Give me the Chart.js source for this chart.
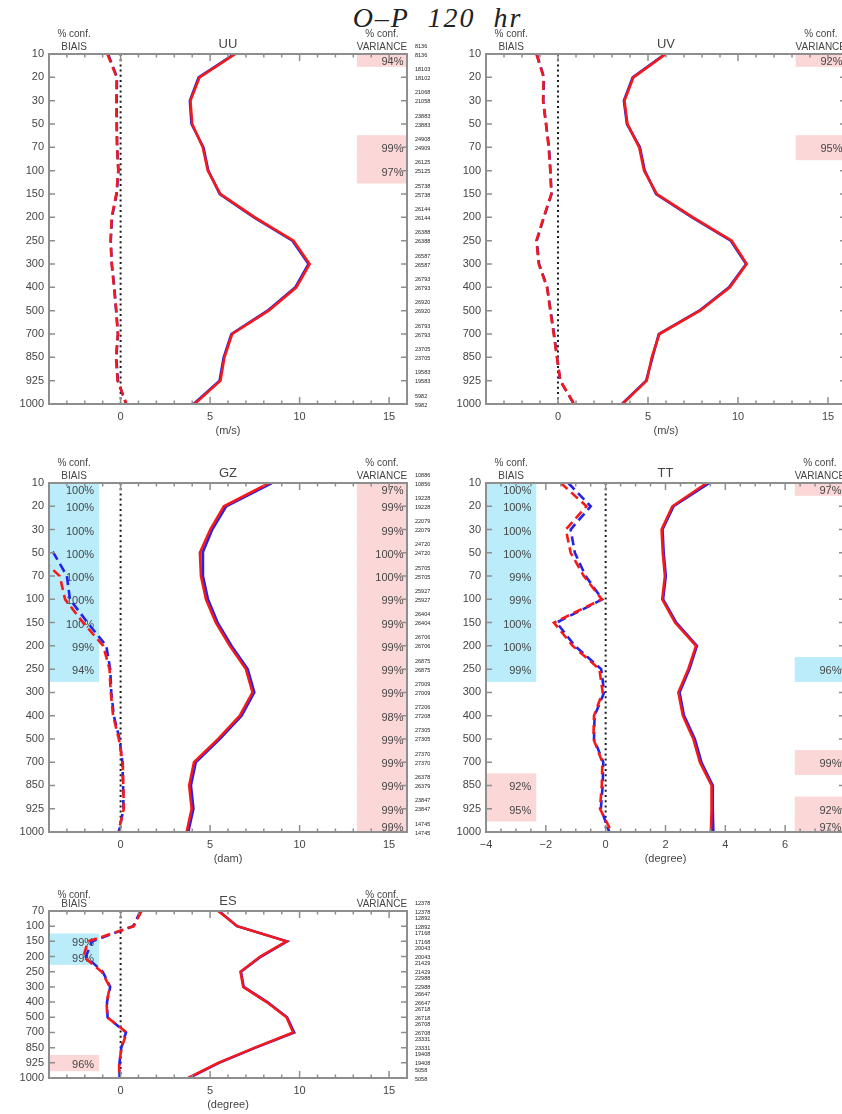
<!DOCTYPE html>
<html><head><meta charset="utf-8">
<script src="https://cdn.jsdelivr.net/npm/chart.js@4.4.1/dist/chart.umd.min.js"></script>
<style>
html,body{margin:0;padding:0;background:#fff;overflow:hidden;width:842px;height:1114px;}
#wrap{position:relative;width:842px;height:1114px;overflow:hidden;}
canvas{position:absolute;}
#title{position:absolute;left:0;width:875px;top:2px;line-height:32px;text-align:center;font:italic 28px 'Liberation Serif',serif;letter-spacing:2px;color:#222;white-space:pre;}
</style></head><body><div id="wrap"><div id="title">O–P  120  hr</div></div>
<script>
// ---------- data ----------
const levels16 = ['10','20','30','50','70','100','150','200','250','300','400','500','700','850','925','1000'];
const levelsES = ['70','100','150','200','250','300','400','500','700','850','925','1000'];
const windTicks = [0,5,10,15];
const ttTicks = [-4,-2,0,2,4,6,8];

// UU
const uuStdRed  = [6.41,4.41,3.90,4.00,4.59,4.87,5.58,7.50,9.66,10.56,9.82,8.27,6.23,5.80,5.58,4.13];
const uuStdBlue = [6.36,4.36,3.87,3.96,4.63,4.90,5.54,7.45,9.60,10.50,9.76,8.21,6.19,5.76,5.53,4.08];
const uuBiasRed  = [-0.74,-0.22,-0.24,-0.22,-0.19,-0.13,-0.24,-0.50,-0.56,-0.50,-0.37,-0.24,-0.15,-0.26,-0.17,0.33];
const uuBiasBlue = [-0.70,-0.20,-0.22,-0.21,-0.20,-0.12,-0.22,-0.48,-0.55,-0.49,-0.35,-0.25,-0.15,-0.24,-0.15,0.30];
const uuVarConf = [94,null,null,null,99,97,null,null,null,null,null,null,null,null,null,null];
const uuVarKind = 'r...rr..........';
const uuCountA = [8136,18103,21068,23883,24908,26125,25738,26144,26388,26587,26793,26920,26793,23705,19583,5982];
const uuCountB = [8136,18102,21058,23883,24909,25125,25738,26144,26388,26587,26793,26920,26793,23705,19583,5982];

// UV
const uvStdRed  = [5.99,4.19,3.69,3.86,4.51,4.78,5.49,7.50,9.65,10.48,9.55,7.89,5.63,5.21,4.93,3.58];
const uvStdBlue = [5.95,4.15,3.66,3.83,4.55,4.82,5.45,7.45,9.60,10.45,9.50,7.85,5.60,5.25,4.90,3.55];
const uvBiasRed  = [-1.20,-0.80,-0.83,-0.67,-0.52,-0.43,-0.37,-0.80,-1.20,-1.07,-0.61,-0.43,-0.24,-0.06,0.13,0.90];
const uvBiasBlue = [-1.18,-0.78,-0.82,-0.66,-0.50,-0.42,-0.36,-0.78,-1.18,-1.05,-0.60,-0.41,-0.22,-0.05,0.12,0.88];
const uvVarConf = [92,null,null,null,95,null,null,null,null,null,null,null,null,null,null,null];
const uvVarKind = 'r...r...........';

// GZ
const gzStdRed  = [8.30,5.77,5.01,4.43,4.49,4.77,5.32,6.10,7.00,7.37,6.66,5.45,4.10,3.83,3.97,3.69];
const gzStdBlue = [8.45,5.90,5.12,4.58,4.60,4.88,5.42,6.20,7.10,7.47,6.76,5.55,4.20,3.93,4.07,3.78];
const gzBiasRed  = [-7.0,-7.0,-6.5,-4.8,-3.40,-3.10,-2.10,-0.97,-0.62,-0.55,-0.42,-0.10,0.12,0.15,0.18,-0.12];
const gzBiasBlue = [-7.0,-7.0,-6.0,-3.75,-3.00,-2.83,-1.85,-0.80,-0.58,-0.52,-0.38,-0.06,0.10,0.14,0.16,-0.10];
const gzBiasConf = [100,100,100,100,100,100,100,99,94,null,null,null,null,null,null,null];
const gzBiasKind = 'bbbbbbbbb.......';
const gzVarConf = [97,99,99,100,100,99,99,99,99,99,98,99,99,99,99,99];
const gzVarKind = 'rrrrrrrrrrrrrrrr';
const gzCountA = [10886,19228,22079,24720,25705,25927,26404,26706,26875,27009,27206,27305,27370,26378,23847,14745];
const gzCountB = [10856,19228,22079,24720,25705,25927,26404,26706,26875,27009,27208,27305,27370,26379,23847,14745];

// TT
const ttStdRed  = [3.38,2.23,1.87,1.91,1.98,1.89,2.32,3.02,2.76,2.43,2.58,2.93,3.15,3.54,3.54,3.52];
const ttStdBlue = [3.47,2.27,1.90,1.94,2.01,1.92,2.36,3.05,2.80,2.47,2.62,2.98,3.20,3.58,3.58,3.60];
const ttBiasRed  = [-1.50,-0.64,-1.33,-1.17,-0.73,-0.13,-1.73,-1.10,-0.21,-0.10,-0.39,-0.41,-0.11,-0.13,-0.19,0.20];
const ttBiasBlue = [-1.25,-0.50,-1.17,-1.03,-0.67,-0.11,-1.64,-1.03,-0.15,-0.05,-0.37,-0.39,-0.08,-0.10,-0.16,0.12];
const ttBiasConf = [100,100,100,100,99,99,100,100,99,null,null,null,null,92,95,null];
const ttBiasKind = 'bbbbbbbbb....rr.';
const ttVarConf = [97,null,null,null,null,null,null,null,96,null,null,null,99,null,92,97];
const ttVarKind = 'r.......b...r.rr';

// ES
const esStdRed  = [5.45,6.52,9.27,7.80,6.70,6.85,8.16,9.27,9.64,7.50,5.45,3.78];
const esStdBlue = [5.50,6.50,9.30,7.85,6.72,6.88,8.20,9.30,9.70,7.55,5.50,3.82];
const esBiasRed  = [1.17,0.74,-1.81,-2.09,-1.06,-0.60,-0.78,-0.75,0.34,0.06,-0.08,-0.08];
const esBiasBlue = [1.12,0.70,-1.60,-1.94,-1.00,-0.58,-0.76,-0.73,0.30,0.04,-0.06,-0.06];
const esBiasConf = [null,null,99,99,null,null,null,null,null,null,96,null];
const esBiasKind = '..bb......r.';
const esCountA = [12378,12892,17168,20043,21429,22988,26647,26718,26708,23331,19408,5058];
const esCountB = [12378,12892,17168,20043,21429,22988,26647,26718,26708,23331,19408,5058];

// ---------- drawing ----------
const RED = 'rgb(245,25,25)', BLUE = 'rgb(35,35,235)';
const PINK = 'rgb(251,215,215)', CYAN = 'rgb(187,236,250)';
const AXIS = '#8e8e8e', TXT = '#454545';
const wrap = document.getElementById('wrap');
const fmt = v => v < 0 ? '\u2212' + Math.abs(v) : String(v);

function panelPlugin(cfg){
  return {
    id: 'panel_' + cfg.name,
    beforeDatasetsDraw(chart){
      const {ctx, chartArea:a, scales:{x, y}} = chart;
      const bw = (a.right - a.left) * 0.14;
      ctx.save();
      const drawConf = (conf, kind, x0, x1, inset) => {
        if (!conf) return;
        conf.forEach((v, i) => {
          if (v == null) return;
          ctx.fillStyle = kind[i] === 'b' ? CYAN : PINK;
          let y0 = Math.max(a.top, y.getPixelForValue(i - 0.52));
          let y1 = Math.min(a.bottom, y.getPixelForValue(i + 0.55));
          ctx.fillRect(x0, y0, x1 - x0, y1 - y0);
        });
        conf.forEach((v, i) => {
          if (v == null) return;
          ctx.fillStyle = TXT;
          ctx.font = '11px "Liberation Sans", Arial, sans-serif';
          ctx.textAlign = 'right'; ctx.textBaseline = 'middle';
          let ty = y.getPixelForValue(i) + 2;
          ty = Math.max(a.top + 8, Math.min(a.bottom - 4, ty));
          ctx.fillText(v + '%', x1 - inset, ty);
        });
      };
      drawConf(cfg.biasConf, cfg.biasKind, a.left, a.left + bw, 5);
      drawConf(cfg.varConf, cfg.varKind, a.right - bw, a.right, 3.5);
      // zero line
      const x0 = x.getPixelForValue(0);
      ctx.strokeStyle = '#1c1c1c'; ctx.lineWidth = 2; ctx.setLineDash([2, 3.2]);
      ctx.beginPath(); ctx.moveTo(x0, a.top); ctx.lineTo(x0, a.bottom); ctx.stroke();
      ctx.restore();
    },
    afterDatasetsDraw(chart){
      const {ctx, chartArea:a, scales:{x, y}} = chart;
      ctx.save();
      ctx.strokeStyle = AXIS; ctx.lineWidth = 1.5;
      ctx.beginPath();
      y.ticks.forEach(t => {
        const py = y.getPixelForValue(t.value);
        ctx.moveTo(a.left, py); ctx.lineTo(a.left + 6, py);
        ctx.moveTo(a.right, py); ctx.lineTo(a.right - 6, py);
      });
      const n = Math.round((cfg.xMax - cfg.xMin) / cfg.minor);
      for (let k = 0; k <= n; k++) {
        const px = x.getPixelForValue(cfg.xMin + k * cfg.minor);
        ctx.moveTo(px, a.bottom); ctx.lineTo(px, a.bottom - 3.5);
        ctx.moveTo(px, a.top); ctx.lineTo(px, a.top + 3.5);
      }
      x.ticks.forEach(t => {
        const px = x.getPixelForValue(t.value);
        ctx.moveTo(px, a.bottom); ctx.lineTo(px, a.bottom - 7);
        ctx.moveTo(px, a.top); ctx.lineTo(px, a.top + 7);
      });
      ctx.stroke();
      ctx.lineWidth = 2;
      ctx.strokeRect(a.left, a.top, a.right - a.left, a.bottom - a.top);
      ctx.restore();
    },
    afterDraw(chart){
      const {ctx, chartArea:a, scales:{y}} = chart;
      const bw = (a.right - a.left) * 0.14;
      ctx.save();
      ctx.fillStyle = TXT; ctx.textAlign = 'center'; ctx.textBaseline = 'middle';
      ctx.font = '10px "Liberation Sans", Arial, sans-serif';
      ctx.fillText('% conf.', a.left + bw / 2, a.top - cfg.confDy);
      ctx.fillText('BIAIS', a.left + bw / 2, a.top - 7);
      ctx.fillText('% conf.', a.right - bw / 2, a.top - cfg.confDy);
      ctx.fillText('VARIANCE', a.right - bw / 2, a.top - 7);
      ctx.font = '13px "Liberation Sans", Arial, sans-serif';
      ctx.fillText(cfg.name, (a.left + a.right) / 2, a.top - 10);
      ctx.font = '11px "Liberation Sans", Arial, sans-serif';
      ctx.fillText(cfg.unit, (a.left + a.right) / 2, a.bottom + 27);
      if (cfg.countA) {
        ctx.textAlign = 'left'; ctx.fillStyle = '#222';
        ctx.font = '5.5px "Liberation Sans", Arial, sans-serif';
        cfg.countA.forEach((c, i) => {
          const py = y.getPixelForValue(i);
          ctx.fillText(String(c), a.right + 8, py - 8);
          ctx.fillText(String(cfg.countB[i]), a.right + 8, py + 1);
        });
      }
      ctx.restore();
    }
  };
}

function makePanel(cfg){
  const ML = 49, MT = 40, MR = 60, MB = 40;
  const w = cfg.r - cfg.l, h = cfg.b - cfg.t;
  const cv = document.createElement('canvas');
  cv.width = w + ML + MR; cv.height = h + MT + MB;
  cv.style.left = (cfg.l - ML) + 'px'; cv.style.top = (cfg.t - MT) + 'px';
  wrap.appendChild(cv);
  const pts = arr => arr.map((v, i) => ({x: v, y: i}));
  const idx = cfg.levels.map((_, i) => i);
  const dash = [9, 5];
  // Chart.js paints dataset 0 last (on top): red first so it sits over blue
  new Chart(cv, {
    type: 'line',
    data: {datasets: [
      {data: pts(cfg.stdRed), borderColor: RED},
      {data: pts(cfg.biasRed), borderColor: RED, borderDash: dash},
      {data: pts(cfg.stdBlue), borderColor: BLUE},
      {data: pts(cfg.biasBlue), borderColor: BLUE, borderDash: dash}
    ]},
    options: {
      responsive: false, animation: false, devicePixelRatio: 1,
      layout: {padding: {left: 0, top: MT, right: MR, bottom: 0}},
      plugins: {legend: {display: false}, tooltip: {enabled: false}},
      elements: {point: {radius: 0}, line: {borderWidth: 2.6, tension: 0, fill: false}},
      scales: {
        x: {type: 'linear', position: 'bottom', min: cfg.xMin, max: cfg.xMax,
            afterBuildTicks: s => { s.ticks = cfg.xTicks.map(v => ({value: v})); },
            afterFit: s => { s.height = MB; },
            grid: {display: false, drawTicks: false}, border: {display: false},
            ticks: {padding: 6, autoSkip: false, maxRotation: 0, color: TXT,
                    font: {size: 11, family: '"Liberation Sans", Arial, sans-serif'},
                    callback: v => fmt(v)}},
        y: {type: 'linear', position: 'left', reverse: true, min: 0, max: cfg.levels.length - 1,
            afterBuildTicks: s => { s.ticks = idx.map(v => ({value: v})); },
            afterFit: s => { s.width = ML; },
            grid: {display: false, drawTicks: false}, border: {display: false},
            ticks: {padding: 5, autoSkip: false, color: TXT,
                    font: {size: 11, family: '"Liberation Sans", Arial, sans-serif'},
                    callback: v => cfg.levels[v]}}
      }
    },
    plugins: [panelPlugin(cfg)]
  });
}

makePanel({name:'UU', unit:'(m/s)', l:49, t:54, r:407, b:404, xMin:-4, xMax:16, minor:1, xTicks:windTicks, levels:levels16, confDy:20,
  stdRed:uuStdRed, stdBlue:uuStdBlue, biasRed:uuBiasRed, biasBlue:uuBiasBlue,
  varConf:uuVarConf, varKind:uuVarKind, countA:uuCountA, countB:uuCountB});
makePanel({name:'UV', unit:'(m/s)', l:486, t:54, r:846, b:404, xMin:-4, xMax:16, minor:1, xTicks:windTicks, levels:levels16, confDy:20,
  stdRed:uvStdRed, stdBlue:uvStdBlue, biasRed:uvBiasRed, biasBlue:uvBiasBlue,
  varConf:uvVarConf, varKind:uvVarKind});
makePanel({name:'GZ', unit:'(dam)', l:49, t:483, r:407, b:832, xMin:-4, xMax:16, minor:1, xTicks:windTicks, levels:levels16, confDy:20,
  stdRed:gzStdRed, stdBlue:gzStdBlue, biasRed:gzBiasRed, biasBlue:gzBiasBlue,
  biasConf:gzBiasConf, biasKind:gzBiasKind, varConf:gzVarConf, varKind:gzVarKind, countA:gzCountA, countB:gzCountB});
makePanel({name:'TT', unit:'(degree)', l:486, t:483, r:845, b:832, xMin:-4, xMax:8, minor:0.5, xTicks:ttTicks, levels:levels16, confDy:20,
  stdRed:ttStdRed, stdBlue:ttStdBlue, biasRed:ttBiasRed, biasBlue:ttBiasBlue,
  biasConf:ttBiasConf, biasKind:ttBiasKind, varConf:ttVarConf, varKind:ttVarKind});
makePanel({name:'ES', unit:'(degree)', l:49, t:911, r:407, b:1078, xMin:-4, xMax:16, minor:1, xTicks:windTicks, levels:levelsES, confDy:16,
  stdRed:esStdRed, stdBlue:esStdBlue, biasRed:esBiasRed, biasBlue:esBiasBlue,
  biasConf:esBiasConf, biasKind:esBiasKind, countA:esCountA, countB:esCountB});
</script>
</body></html>
